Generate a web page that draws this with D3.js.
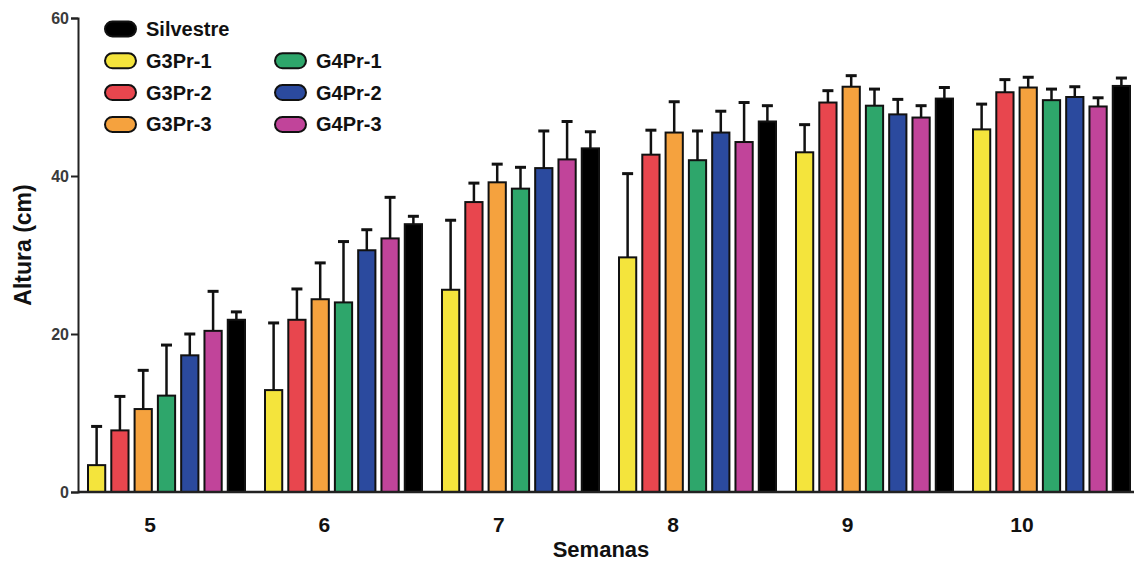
<!DOCTYPE html>
<html>
<head>
    <meta charset="utf-8">
    <script src="https://cdn.jsdelivr.net/npm/d3@7"></script>
    <style>
        body { margin: 0; background: #fff; }
        text { font-family: Arial, "Liberation Sans", sans-serif; font-weight: bold; }
    </style>
</head>
<body>
    <div id="graph"></div>
    <script>
        // data (altura media y desvio, cm)
        var weeks = ["5", "6", "7", "8", "9", "10"];
        var series = ["G3Pr-1", "G3Pr-2", "G3Pr-3", "G4Pr-1", "G4Pr-2", "G4Pr-3", "Silvestre"];
        var colors = ["#f4e43c", "#e8464e", "#f5a23e", "#2ea66b", "#2b4a9e", "#c1449a", "#000000"];

        var meanG3Pr1 = [3.4, 12.9, 25.6, 29.7, 43.0, 45.9];
        var meanG3Pr2 = [7.8, 21.8, 36.7, 42.7, 49.3, 50.6];
        var meanG3Pr3 = [10.5, 24.4, 39.2, 45.5, 51.3, 51.2];
        var meanG4Pr1 = [12.2, 24.0, 38.4, 42.0, 48.9, 49.6];
        var meanG4Pr2 = [17.3, 30.6, 41.0, 45.5, 47.8, 50.0];
        var meanG4Pr3 = [20.4, 32.1, 42.1, 44.3, 47.4, 48.8];
        var meanSilv  = [21.8, 33.9, 43.5, 46.9, 49.8, 51.4];

        var errG3Pr1 = [4.9, 8.5, 8.8, 10.6, 3.5, 3.2];
        var errG3Pr2 = [4.3, 3.9, 2.4, 3.1, 1.5, 1.6];
        var errG3Pr3 = [4.9, 4.6, 2.3, 3.9, 1.4, 1.3];
        var errG4Pr1 = [6.4, 7.7, 2.7, 3.7, 2.1, 1.4];
        var errG4Pr2 = [2.7, 2.6, 4.7, 2.7, 1.9, 1.3];
        var errG4Pr3 = [5.0, 5.2, 4.8, 5.0, 1.5, 1.1];
        var errSilv  = [1.0, 1.0, 2.1, 2.0, 1.4, 1.0];

        var yTicks = [0, 20, 40, 60];

        var means = [meanG3Pr1, meanG3Pr2, meanG3Pr3, meanG4Pr1, meanG4Pr2, meanG4Pr3, meanSilv];
        var errs = [errG3Pr1, errG3Pr2, errG3Pr3, errG4Pr1, errG4Pr2, errG4Pr3, errSilv];

        // flat table for the bars
        var rows = [];
        weeks.forEach(function (w, i) {
            series.forEach(function (s, j) {
                rows.push({ week: w, serie: s, value: means[j][i], err: errs[j][i] });
            });
        });

        var width = 1142, height = 563;
        var plotLeft = 78, plotRight = 1140, plotTop = 18, plotBottom = 492;

        var svg = d3.select("#graph")
            .append("svg")
            .attr("width", width)
            .attr("height", height);

        var x0 = d3.scaleBand()
            .domain(weeks)
            .range([plotLeft, plotRight])
            .paddingInner(0.113)
            .paddingOuter(0.0565);

        var x1 = d3.scaleBand()
            .domain(series)
            .range([0, x0.bandwidth()])
            .paddingInner(0.26);

        var y = d3.scaleLinear()
            .domain([0, 60])
            .range([plotBottom, plotTop]);

        var color = d3.scaleOrdinal()
            .domain(series)
            .range(colors);

        // error bars (upper only)
        var eb = svg.append("g")
            .selectAll("g")
            .data(rows)
            .enter()
            .append("g")
            .attr("transform", function (d) { return "translate(" + (x0(d.week) + x1(d.serie) + x1.bandwidth() / 2) + ",0)" });

        eb.append("line")
            .attr("y1", function (d) { return y(d.value) })
            .attr("y2", function (d) { return y(d.value + d.err) })
            .attr("stroke", "#111")
            .attr("stroke-width", 2.5);

        eb.append("line")
            .attr("x1", -5.5)
            .attr("x2", 5.5)
            .attr("y1", function (d) { return y(d.value + d.err) })
            .attr("y2", function (d) { return y(d.value + d.err) })
            .attr("stroke", "#111")
            .attr("stroke-width", 3);

        // bars
        svg.append("g")
            .selectAll("rect")
            .data(rows)
            .enter()
            .append("rect")
            .attr("x", function (d) { return x0(d.week) + x1(d.serie) })
            .attr("y", function (d) { return y(d.value) })
            .attr("width", x1.bandwidth())
            .attr("height", function (d) { return y(0) - y(d.value) })
            .attr("fill", function (d) { return color(d.serie) })
            .attr("stroke", "#111")
            .attr("stroke-width", 2);

        // y axis
        var yAxis = svg.append("g")
            .attr("transform", "translate(" + plotLeft + ",0)")
            .call(d3.axisLeft(y).tickValues(yTicks).tickSize(7).tickPadding(2));
        yAxis.select(".domain").attr("stroke", "#222").attr("stroke-width", 2);
        yAxis.selectAll(".tick line").attr("stroke", "#222").attr("stroke-width", 2);
        yAxis.selectAll(".tick text")
            .attr("font-size", "16px")
            .attr("fill", "#3a3a3a")
            .style("font-family", "Arial, 'Liberation Sans', sans-serif")
            .style("font-weight", "bold");

        // x axis line
        svg.append("line")
            .attr("x1", plotLeft)
            .attr("x2", plotRight - 6)
            .attr("y1", y(0))
            .attr("y2", y(0))
            .attr("stroke", "#222")
            .attr("stroke-width", 2.5);

        // week labels (sit a bit left of the group centres, as in the figure)
        var xLab = d3.scalePoint()
            .domain(weeks)
            .range([150, 1022]);

        svg.append("g")
            .selectAll("text")
            .data(weeks)
            .enter()
            .append("text")
            .attr("x", function (d) { return xLab(d) })
            .attr("y", 532)
            .attr("text-anchor", "middle")
            .attr("font-size", "21px")
            .attr("fill", "#111")
            .text(function (d) { return d });

        // axis titles
        svg.append("text")
            .attr("x", 601)
            .attr("y", 557)
            .attr("text-anchor", "middle")
            .attr("font-size", "22px")
            .attr("fill", "#111")
            .text("Semanas");

        svg.append("text")
            .attr("transform", "translate(31,245) rotate(-90)")
            .attr("text-anchor", "middle")
            .attr("font-size", "23px")
            .attr("fill", "#111")
            .text("Altura (cm)");

        // legend: Silvestre on its own row, then G3 in column 1 and G4 in column 2
        var legendOrder = ["Silvestre", "G3Pr-1", "G3Pr-2", "G3Pr-3", "G4Pr-1", "G4Pr-2", "G4Pr-3"];
        var leg = svg.append("g")
            .selectAll("g")
            .data(legendOrder)
            .enter()
            .append("g")
            .attr("transform", function (d, i) {
                var col = i >= 4 ? 1 : 0;
                var row = i >= 4 ? i - 3 : i;
                return "translate(" + (105 + col * 170) + "," + (29 + row * 31.8) + ")";
            });

        leg.append("rect")
            .attr("x", 0)
            .attr("y", -7.5)
            .attr("width", 31)
            .attr("height", 15)
            .attr("rx", 7.5)
            .attr("fill", function (d) { return color(d) })
            .attr("stroke", "#111")
            .attr("stroke-width", 2);

        leg.append("text")
            .attr("x", 41)
            .attr("y", 7)
            .attr("font-size", "20px")
            .attr("fill", "#111")
            .text(function (d) { return d });
    </script>
</body>
</html>
